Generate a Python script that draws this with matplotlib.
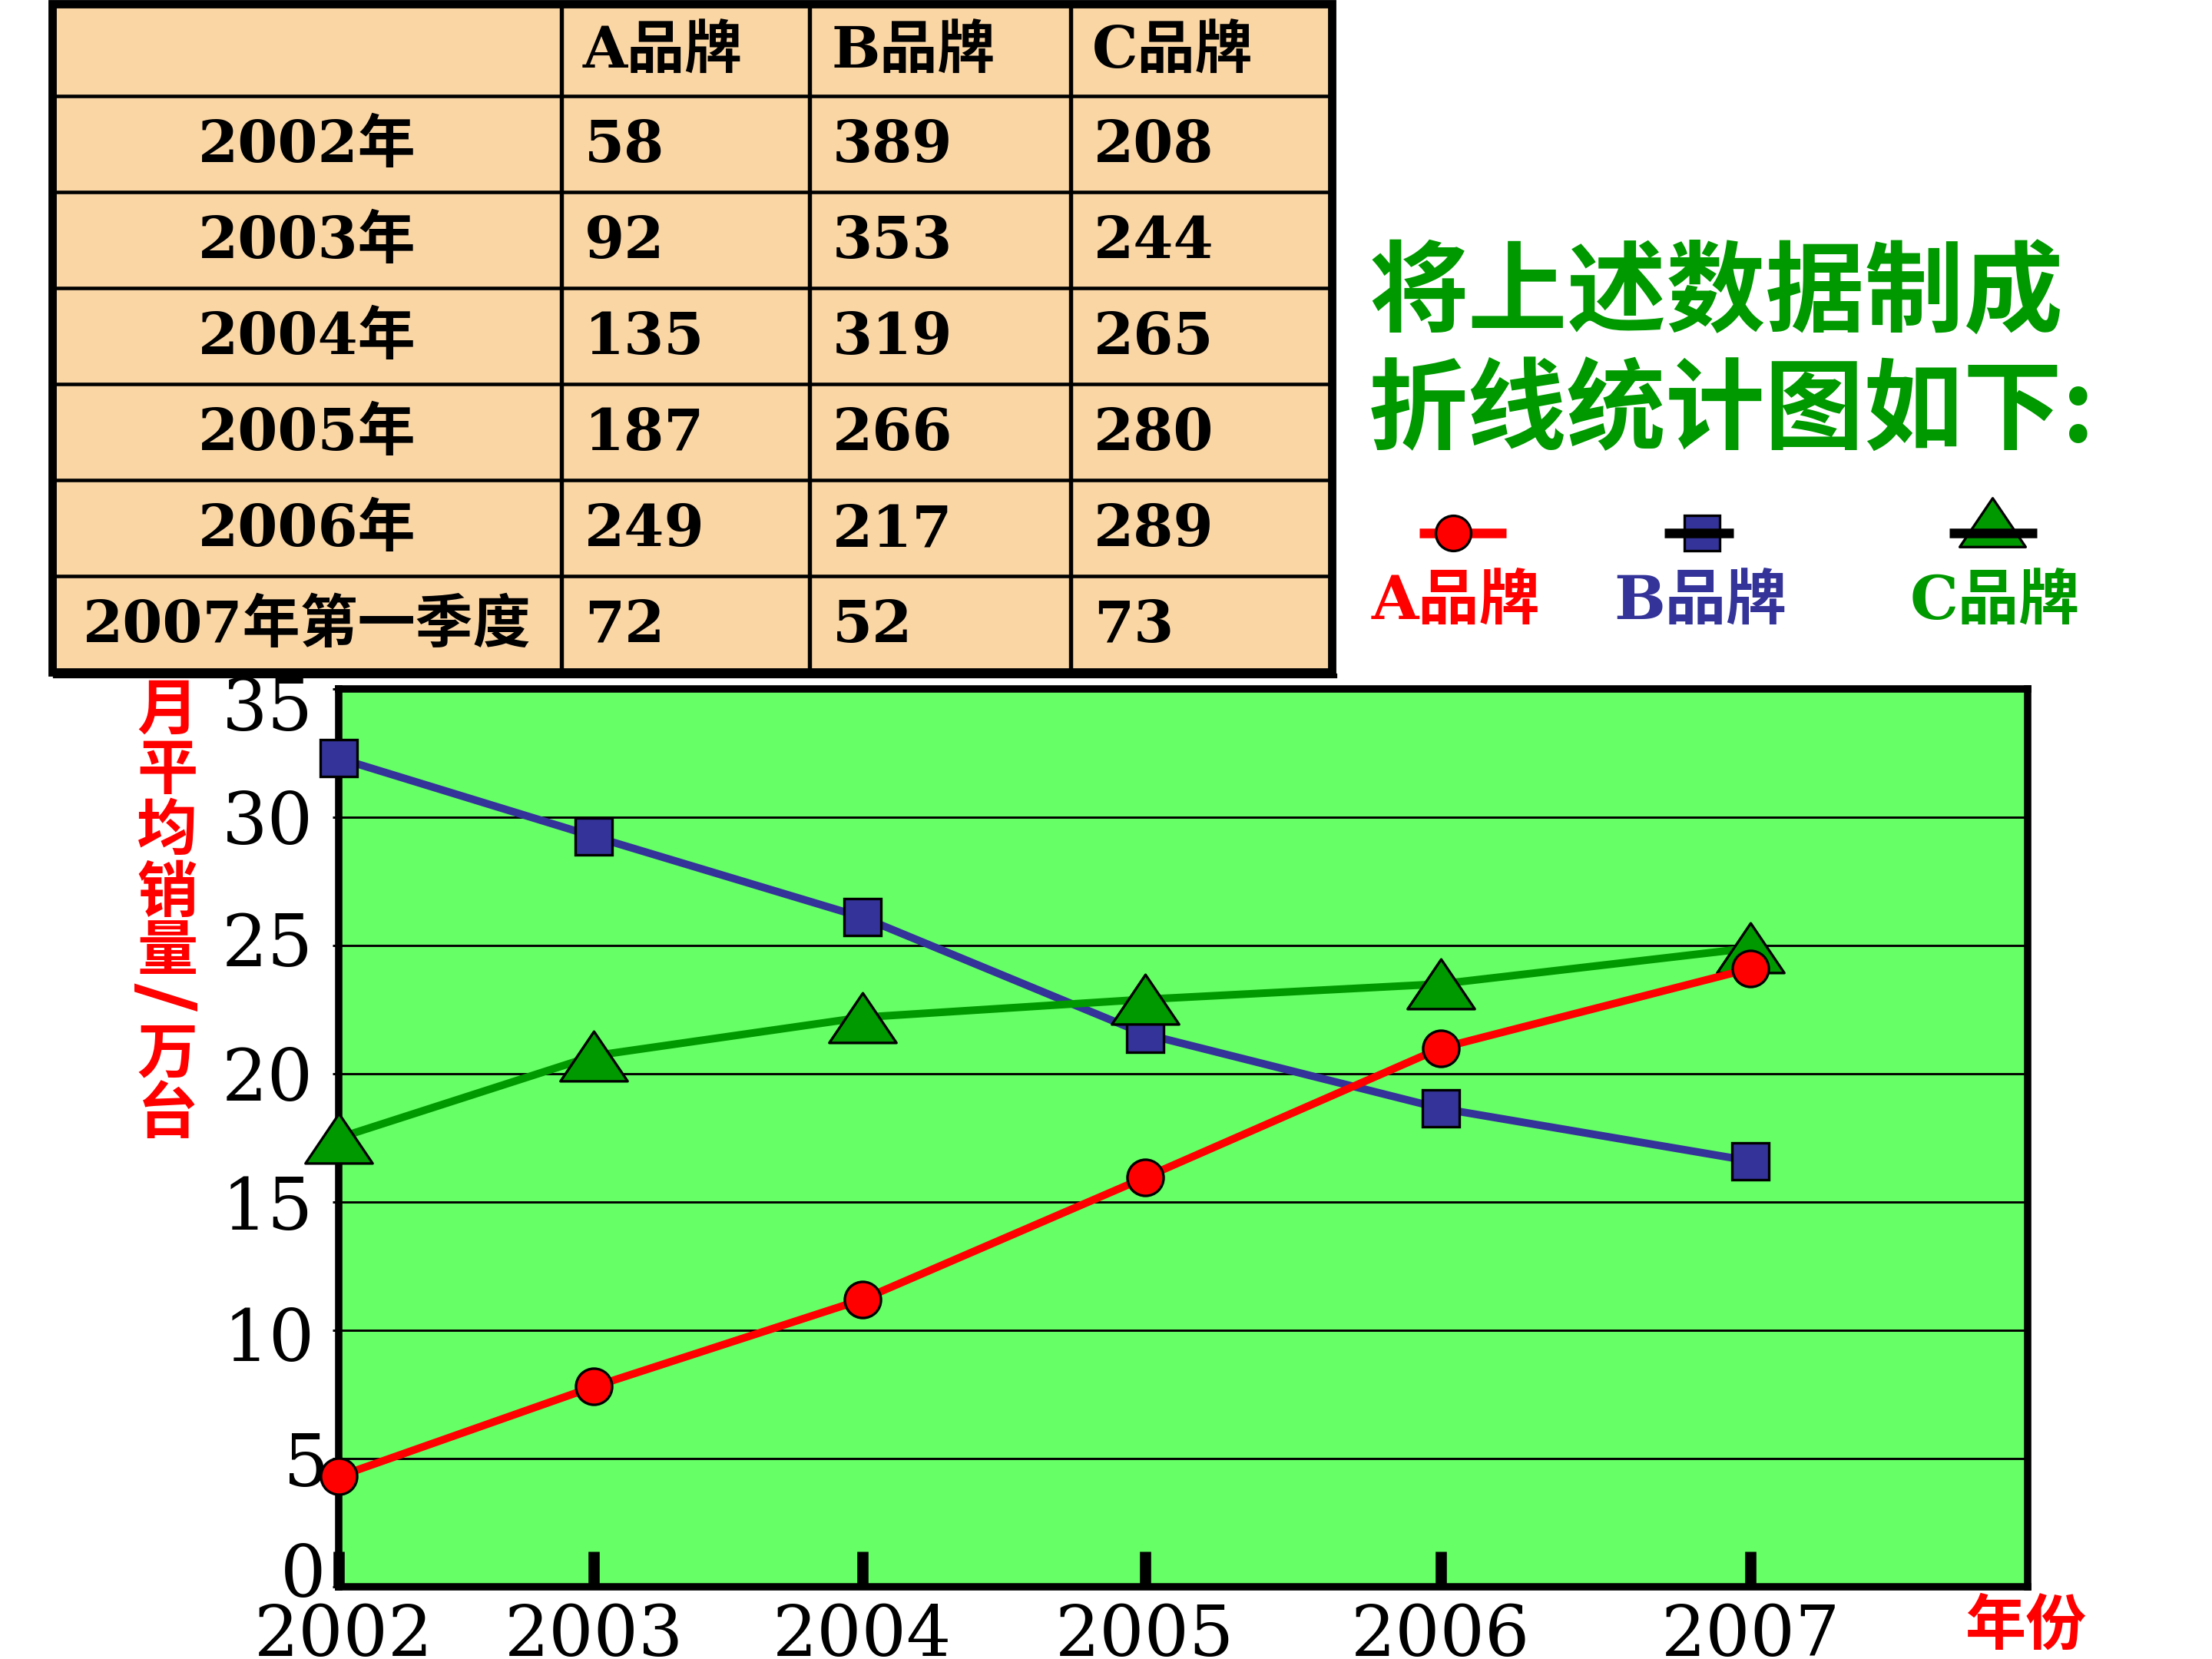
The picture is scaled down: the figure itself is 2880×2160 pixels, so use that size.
import numpy as np
import matplotlib
matplotlib.use('Agg')
import matplotlib.pyplot as plt
from matplotlib.path import Path
from matplotlib.patches import Rectangle
from matplotlib.ticker import NullLocator
from matplotlib.transforms import ScaledTranslation

plt.rcParams['font.family'] = ['DejaVu Serif', 'Noto Sans CJK SC']

# ---------------- data ----------------
table_cols = ['A品牌', 'B品牌', 'C品牌']
table_rows = ['2002年', '2003年', '2004年', '2005年', '2006年', '2007年第一季度']
total_a = [58, 92, 135, 187, 249, 72]
total_b = [389, 353, 319, 266, 217, 52]
total_c = [208, 244, 265, 280, 289, 73]

years = [2002, 2003, 2004, 2005, 2006, 2007]
year_labels = ['2002', '2003', '2004', '2005', '2006', '2007']
avg_a = [4.3, 7.8, 11.2, 15.95, 21.0, 24.1]
avg_b = [32.3, 29.25, 26.1, 21.55, 18.65, 16.6]
avg_c = [17.5, 20.7, 22.2, 22.9, 23.5, 24.9]
y_ticks = [0, 5, 10, 15, 20, 25, 30, 35]
series_names = ['A品牌', 'B品牌', 'C品牌']

title_lines = ['将上述数据制成', '折线统计图如下:']
ylabel_chars = ['月', '平', '均', '销', '量', '/', '万', '台']
xlabel_text = '年份'

# ---------------- styles ----------------
RED = '#FF0000'
BLUE = '#333399'
GREEN = '#009900'
PLOT_BG = '#66FF66'
TABLE_BG = '#FAD6A5'
CJK_BOLD = ['DejaVu Serif', 'Noto Sans CJK SC']
CJK_SANS = ['Noto Sans CJK SC', 'DejaVu Sans']

W, H = 2880, 2160
fig = plt.figure(figsize=(9.6, 7.2), dpi=300)

# overlay in pixel coordinates for table / legend / labels
ov = fig.add_axes([0, 0, 1, 1])
ov.set_xlim(0, W)
ov.set_ylim(H, 0)
ov.axis('off')

# ---------------- table ----------------
col_x = [68, 731, 1054, 1394, 1734]
row_y = [5, 125, 250, 375, 500, 625, 750, 875]
ov.add_patch(Rectangle((col_x[0], row_y[0]), col_x[-1] - col_x[0], row_y[-1] - row_y[0],
                       facecolor=TABLE_BG, edgecolor='none', zorder=1))
for x in col_x[1:-1]:
    ov.plot([x, x], [row_y[0], row_y[-1]], color='black', lw=1.3, zorder=2)
for y in row_y[1:-1]:
    ov.plot([col_x[0], col_x[-1]], [y, y], color='black', lw=1.1, zorder=2)
ov.add_patch(Rectangle((col_x[0], row_y[0]), col_x[-1] - col_x[0], row_y[-1] - row_y[0],
                       facecolor='none', edgecolor='black', lw=2.6, zorder=3))
ov.plot([col_x[0] + 4, col_x[-1] + 4], [row_y[-1] + 5, row_y[-1] + 5], color='black', lw=1.5, zorder=3)

tfs = 18
for j, name in enumerate(table_cols):
    ov.text(col_x[j + 1] + 28, (row_y[0] + row_y[1]) / 2 + 3, name, fontsize=tfs,
            fontweight='bold', ha='left', va='center', family=CJK_BOLD, zorder=4)
for i, rname in enumerate(table_rows):
    yc = (row_y[i + 1] + row_y[i + 2]) / 2 + 3
    ov.text((col_x[0] + col_x[1]) / 2, yc, rname, fontsize=tfs, fontweight='bold',
            ha='center', va='center', family=CJK_BOLD, zorder=4)
    for j, vals in enumerate([total_a, total_b, total_c]):
        ov.text(col_x[j + 1] + 30, yc, str(vals[i]), fontsize=tfs, fontweight='bold',
                ha='left', va='center', family=CJK_BOLD, zorder=4)

# ---------------- title ----------------
for line, yc in zip(title_lines, [385, 539]):
    ov.text(1782, yc, line, fontsize=31, fontweight='bold', color=GREEN,
            ha='left', va='center', family=CJK_SANS)

# ---------------- main axes ----------------
K = 0.0275


def fwd(x):
    u = np.asarray(x, dtype=float) - 2002.0
    return u + K * u * u


def inv(v):
    v = np.asarray(v, dtype=float)
    return 2002.0 + (-1.0 + np.sqrt(np.maximum(1.0 + 4.0 * K * v, 1e-12))) / (2.0 * K)


ax = fig.add_axes([441 / W, 1 - 2066 / H, (2640 - 441) / W, (2066 - 897) / H])
ax.set_facecolor(PLOT_BG)
ax.set_xscale('function', functions=(fwd, inv))
ax.set_xlim(2002, 2007.86)
ax.set_ylim(0, 35)
ax.set_yticks(y_ticks)
ax.set_yticklabels([str(t) for t in y_ticks], family='DejaVu Serif')
ax.set_xticks(years)
ax.set_xticklabels(year_labels, family='DejaVu Serif')
ax.xaxis.set_minor_locator(NullLocator())
ax.yaxis.set_minor_locator(NullLocator())
ax.tick_params(axis='y', direction='out', length=2, width=0.7, pad=6, labelsize=22.5)
ax.tick_params(axis='x', direction='in', length=11, width=3.5, pad=5, labelsize=22)
ax.yaxis.grid(True, color='black', lw=0.7)
ax.set_axisbelow(True)
for s in ax.spines.values():
    s.set_linewidth(2.3)
    s.set_color('black')
    s.set_zorder(2.5)

# small hand-placed label offsets (points) as in the original slide
ytick_offsets = {0: (4.0, 5.5), 5: (5.0, 0.0), 10: (0.5, -1.0), 25: (0.0, 2.0), 35: (0.0, -4.4)}
for tick in ax.yaxis.get_major_ticks():
    val = int(round(tick.get_loc()))
    if val in ytick_offsets:
        dx, dy = ytick_offsets[val]
        lab = tick.label1
        lab.set_transform(lab.get_transform() + ScaledTranslation(dx / 72, dy / 72, fig.dpi_scale_trans))
xtick_offsets = {2002: (1.5, 0.0)}
for tick in ax.xaxis.get_major_ticks():
    val = int(round(tick.get_loc()))
    if val in xtick_offsets:
        dx, dy = xtick_offsets[val]
        lab = tick.label1
        lab.set_transform(lab.get_transform() + ScaledTranslation(dx / 72, dy / 72, fig.dpi_scale_trans))

tri = Path([(0, 0.74), (-1, -0.74), (1, -0.74), (0, 0.74)],
           [Path.MOVETO, Path.LINETO, Path.LINETO, Path.CLOSEPOLY])

ax.plot(years, avg_b, color=BLUE, lw=2.4, marker='s', ms=11.3, mfc=BLUE,
        mec='black', mew=0.8, clip_on=False, zorder=4)
ax.plot(years, avg_c, color=GREEN, lw=2.4, marker=tri, ms=21, mfc=GREEN,
        mec='black', mew=0.8, clip_on=False, zorder=5)
ax.plot(years, avg_a, color=RED, lw=2.4, marker='o', ms=11.3, mfc=RED,
        mec='black', mew=0.8, clip_on=False, zorder=6)

# ---------------- legend (custom layout) ----------------
leg_y = 694
leg_specs = [
    dict(line=(1848, 1961), line_color=RED, mx=1892, marker='o', ms=11, color=RED,
         line_on_top=False, lx=1786),
    dict(line=(2167, 2257), line_color='black', mx=2216, marker='s', ms=11, color=BLUE,
         line_on_top=True, lx=2101),
    dict(line=(2538, 2652), line_color='black', mx=2594, marker=tri, ms=20.6, color=GREEN,
         line_on_top=True, lx=2487),
]
for spec, name in zip(leg_specs, series_names):
    lz = 6 if spec['line_on_top'] else 4
    ov.plot(list(spec['line']), [leg_y, leg_y], color=spec['line_color'], lw=3,
            solid_capstyle='butt', zorder=lz)
    my = leg_y - 14 if spec['marker'] is tri else leg_y
    ov.plot([spec['mx']], [my], marker=spec['marker'], ms=spec['ms'], mfc=spec['color'],
            mec='black', mew=0.8, ls='none', zorder=5)
    ov.text(spec['lx'], 785, name, fontsize=19, fontweight='bold', color=spec['color'],
            ha='left', va='center', family=CJK_BOLD)

# ---------------- axis labels ----------------
ylab_y = [925, 1003, 1082, 1163, 1240, 1298, 1373, 1451]
for ch, yc in zip(ylabel_chars, ylab_y):
    if ch == '/':
        ov.text(222, yc, ch, fontsize=24, fontweight='bold', color=RED, rotation=90,
                ha='center', va='center', family=['DejaVu Sans'])
    else:
        ov.text(218, yc, ch, fontsize=19, fontweight='bold', color=RED,
                ha='center', va='center', family=CJK_SANS)

ov.text(2637, 2117, xlabel_text, fontsize=19, fontweight='bold', color=RED,
        ha='center', va='center', family=CJK_SANS)

fig.savefig('out.png', dpi=300)
